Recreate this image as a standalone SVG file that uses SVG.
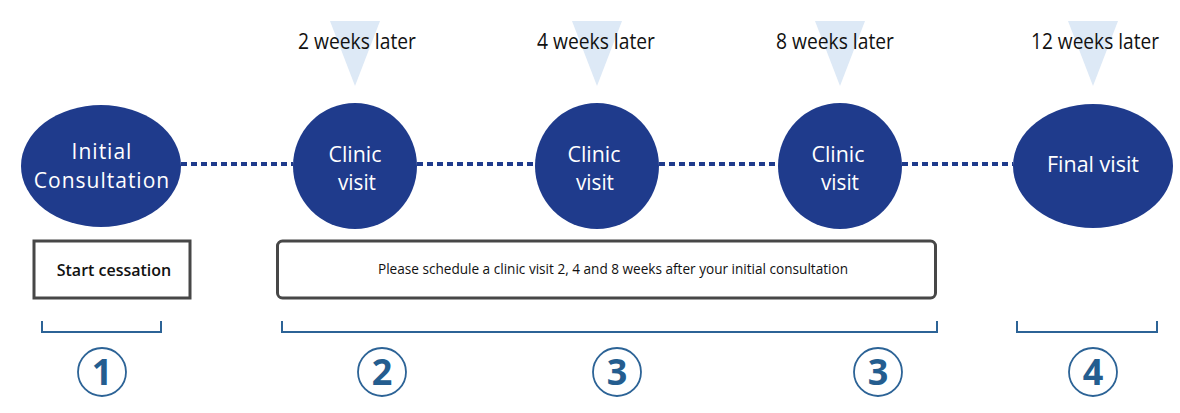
<svg xmlns="http://www.w3.org/2000/svg" width="1180" height="413" viewBox="0 0 1180 413">
<style>
.node{fill:#1f3b8c}
.tri{fill:#dde9f6}
.lbl{font-family:"Open Sans","Liberation Sans",sans-serif;font-size:21px;fill:#111111;text-anchor:middle}
.ntx{font-family:"Open Sans","Liberation Sans",sans-serif;font-size:21px;fill:#ffffff;text-anchor:middle}
.box{fill:#ffffff;stroke:#474747;stroke-width:3}
.btx{font-family:"Open Sans","Liberation Sans",sans-serif;fill:#111;text-anchor:middle}
.conn{stroke:#1f3b8c;stroke-width:4;stroke-dasharray:6 4;fill:none}
.brk{stroke:#2c6396;stroke-width:2;fill:none}
.num{fill:none;stroke:#2c6396;stroke-width:1.8}
.ntxt{font-family:"Open Sans","Liberation Sans",sans-serif;font-size:36px;font-weight:700;fill:#245d8f;text-anchor:middle}
</style>
<rect width="1180" height="413" fill="#ffffff"/>
<g id="triangles">
<polygon class="tri" points="330,21 380,21 355,86"/>
<polygon class="tri" points="572,21 622,21 597,86"/>
<polygon class="tri" points="815,21 865,21 840,86"/>
<polygon class="tri" points="1068,21 1118,21 1093,86"/>
</g>
<g id="time-labels">
<text class="lbl" x="357" y="49" textLength="118" lengthAdjust="spacingAndGlyphs">2 weeks later</text>
<text class="lbl" x="596" y="49" textLength="118" lengthAdjust="spacingAndGlyphs">4 weeks later</text>
<text class="lbl" x="835" y="49" textLength="118" lengthAdjust="spacingAndGlyphs">8 weeks later</text>
<text class="lbl" x="1095" y="49" textLength="128" lengthAdjust="spacingAndGlyphs">12 weeks later</text>
</g>
<g id="connectors">
<line class="conn" x1="181" y1="164" x2="293" y2="164"/>
<line class="conn" x1="417" y1="164" x2="535" y2="164"/>
<line class="conn" x1="659" y1="164" x2="778" y2="164"/>
<line class="conn" x1="902" y1="164" x2="1013" y2="164"/>
</g>
<g id="node-initial">
<ellipse class="node" cx="101" cy="166" rx="80" ry="61"/>
<text class="ntx" x="102" y="159" font-size="19" letter-spacing="1">Initial</text>
<text class="ntx" x="102" y="188" font-size="19" letter-spacing="1">Consultation</text>
</g>
<g id="node-clinic1">
<ellipse class="node" cx="355" cy="166" rx="62" ry="63"/>
<text class="ntx" x="355" y="162" textLength="53" lengthAdjust="spacingAndGlyphs">Clinic</text>
<text class="ntx" x="357" y="190" textLength="38" lengthAdjust="spacingAndGlyphs">visit</text>
</g>
<g id="node-clinic2">
<ellipse class="node" cx="597" cy="166" rx="62" ry="63"/>
<text class="ntx" x="594" y="162" textLength="53" lengthAdjust="spacingAndGlyphs">Clinic</text>
<text class="ntx" x="595" y="190" textLength="38" lengthAdjust="spacingAndGlyphs">visit</text>
</g>
<g id="node-clinic3">
<ellipse class="node" cx="840" cy="166" rx="62" ry="63"/>
<text class="ntx" x="838" y="162" textLength="53" lengthAdjust="spacingAndGlyphs">Clinic</text>
<text class="ntx" x="840" y="190" textLength="38" lengthAdjust="spacingAndGlyphs">visit</text>
</g>
<g id="node-final">
<ellipse class="node" cx="1093" cy="166" rx="80" ry="62"/>
<text class="ntx" x="1093" y="172" textLength="92" lengthAdjust="spacingAndGlyphs">Final visit</text>
</g>
<g id="box-start">
<rect class="box" x="34" y="241" width="156" height="57"/>
<text class="btx" x="114" y="276" font-size="16" font-weight="600">Start cessation</text>
</g>
<g id="box-schedule">
<rect class="box" x="277.5" y="241" width="658" height="57" rx="5"/>
<text class="btx" x="613" y="274" font-size="14" textLength="470" lengthAdjust="spacingAndGlyphs">Please schedule a clinic visit 2, 4 and 8 weeks after your initial consultation</text>
</g>
<g id="brackets">
<polyline class="brk" points="42,321 42,332 161,332 161,321"/>
<polyline class="brk" points="282,321 282,332 937,332 937,321"/>
<polyline class="brk" points="1017,321 1017,332 1157,332 1157,321"/>
</g>
<g id="step-1"><circle class="num" cx="102" cy="372" r="24"/><text class="ntxt" x="102" y="385">1</text></g>
<g id="step-2"><circle class="num" cx="382" cy="372" r="24"/><text class="ntxt" x="382" y="385">2</text></g>
<g id="step-3a"><circle class="num" cx="617" cy="372" r="24"/><text class="ntxt" x="617" y="385">3</text></g>
<g id="step-3b"><circle class="num" cx="878" cy="372" r="24"/><text class="ntxt" x="878" y="385">3</text></g>
<g id="step-4"><circle class="num" cx="1093" cy="372" r="24"/><text class="ntxt" x="1093" y="385">4</text></g>
</svg>
